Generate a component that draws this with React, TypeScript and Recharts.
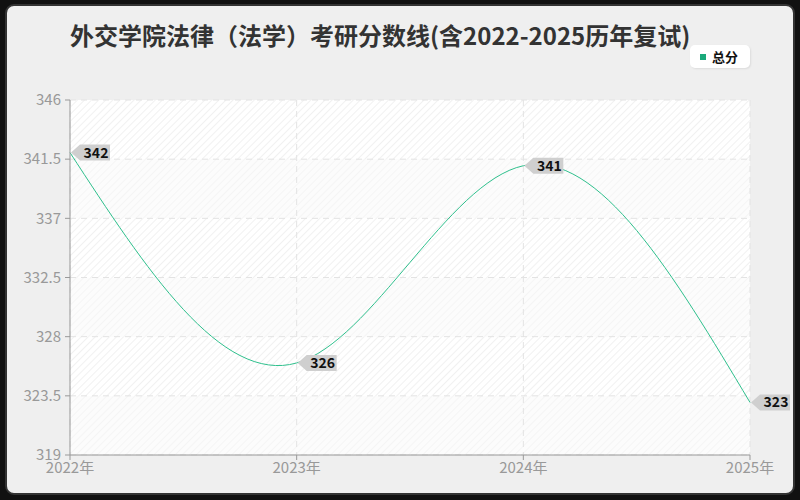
import { LineChart, Line, XAxis, YAxis, CartesianGrid, LabelList } from 'recharts';

const years = ['2022年', '2023年', '2024年', '2025年'];
const totalScores = [342, 326, 341, 323];
const yTicks = [319, 323.5, 328, 332.5, 337, 341.5, 346];

const data = years.map((year, i) => ({ year, total: totalScores[i] }));

const font = '"Noto Sans CJK SC", "Noto Sans", sans-serif';
const lineColor = '#2fc08d';

const TagLabel = (props) => {
  const { x, y, value } = props;
  const w = 32;
  const h = 16;
  const left = x + 8;
  return (
    <g>
      <polygon
        points={`${x + 1},${y} ${left + 2},${y - h / 2} ${left + w},${y - h / 2} ${left + w},${y + h / 2} ${left + 2},${y + h / 2}`}
        fill="#cfcfcf"
      />
      <text
        x={left + w / 2 + 2}
        y={y + 5}
        textAnchor="middle"
        fontSize={14}
        fontWeight="bold"
        fill="#111"
        fontFamily={font}
      >
        {value}
      </text>
    </g>
  );
};

export default function App() {
  return (
    <div style={{ position: 'absolute', left: 0, top: 0, width: 800, height: 500, background: '#111', fontFamily: font }}>
      <div
        style={{
          position: 'absolute',
          left: 5,
          top: 4,
          width: 786,
          height: 487,
          background: '#efefef',
          border: '2px solid #333',
          borderRadius: 9,
        }}
      />
      <div
        style={{
          position: 'absolute',
          left: 70,
          top: 17,
          whiteSpace: 'nowrap',
          fontSize: 24,
          fontWeight: 'bold',
          color: '#333',
        }}
      >
        外交学院法律（法学）考研分数线(含2022-2025历年复试)
      </div>
      <div
        style={{
          position: 'absolute',
          left: 690,
          top: 45,
          width: 60,
          height: 23,
          background: '#fff',
          borderRadius: 5,
          boxShadow: '1px 1px 2px rgba(0,0,0,0.08)',
        }}
      >
        <div style={{ position: 'absolute', left: 10, top: 9, width: 6, height: 6, background: '#1aa97a' }} />
        <div style={{ position: 'absolute', left: 22, top: 2, fontSize: 13, fontWeight: 'bold', color: '#111' }}>总分</div>
      </div>
      <div style={{ position: 'absolute', left: 0, top: 0 }}>
        <LineChart width={800} height={500} data={data} margin={{ top: 100, right: 50, bottom: 15, left: 10 }}>
          <defs>
            <pattern id="hatchA" width="5" height="5" patternUnits="userSpaceOnUse" patternTransform="rotate(45)">
              <rect width="5" height="5" fill="#ffffff" />
              <line x1="0" y1="0" x2="0" y2="5" stroke="#e8e8e8" strokeWidth="1.2" />
            </pattern>
            <pattern id="hatchB" width="5" height="5" patternUnits="userSpaceOnUse" patternTransform="rotate(45)">
              <rect width="5" height="5" fill="#fcfcfc" />
              <line x1="0" y1="0" x2="0" y2="5" stroke="#f1f1f1" strokeWidth="1.2" />
            </pattern>
          </defs>
          <CartesianGrid
            stroke="#e3e3e3"
            strokeDasharray="6 5"
            horizontalFill={['url(#hatchA)', 'url(#hatchB)']}
            fillOpacity={1}
          />
          <XAxis
            dataKey="year"
            padding={{ left: 0, right: 0 }}
            height={30}
            stroke="#999"
            tickLine={{ stroke: '#999' }}
            tickSize={5}
            tick={{ fill: '#999', fontSize: 15, fontFamily: font }}
            interval={0}
          />
          <YAxis
            domain={[319, 346]}
            ticks={yTicks}
            width={60}
            stroke="#999"
            tickLine={{ stroke: '#999' }}
            tickSize={5}
            tickMargin={4}
            tick={{ fill: '#999', fontSize: 15, fontFamily: font }}
            interval={0}
          />
          <Line
            type="natural"
            dataKey="total"
            stroke={lineColor}
            strokeWidth={1}
            dot={false}
            isAnimationActive={false}
          >
            <LabelList dataKey="total" content={TagLabel} />
          </Line>
        </LineChart>
      </div>
    </div>
  );
}
